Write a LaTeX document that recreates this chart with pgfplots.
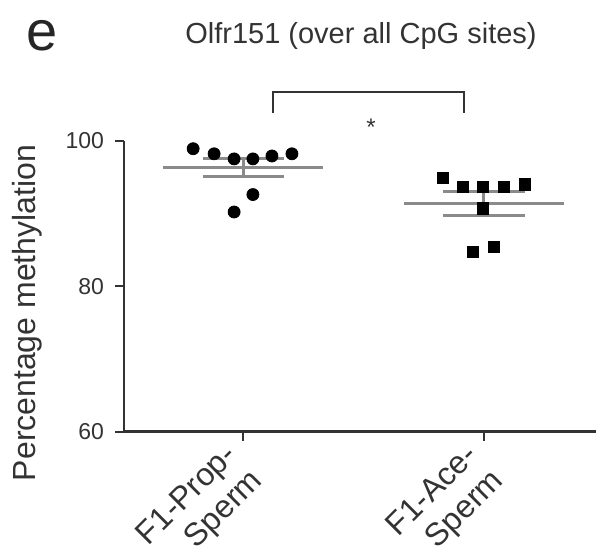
\documentclass[border=0pt]{standalone}
\usepackage{fontspec}
\setmainfont{Liberation Sans}
\usepackage{pgfplots}
\pgfplotsset{compat=1.18}
\definecolor{meangray}{HTML}{8A8A8A}
\definecolor{inkgray}{HTML}{333333}

\begin{document}
\begin{tikzpicture}[x=1pt,y=1pt]
\path[use as bounding box] (0,0) rectangle (298,276);
\begin{axis}[
  at={(62pt,60.15pt)}, anchor=south west,
  scale only axis, width=236pt, height=145.5pt,
  xmin=0.506, xmax=2.465, ymin=60, ymax=100,
  axis x line*=bottom, axis y line*=left,
  axis line style={-, line width=1.2pt, draw=inkgray},
  xtick={1,2}, xticklabels={{F1-Prop-\\Sperm},{F1-Ace-\\Sperm}},
  ytick={60,80,100},
  tick align=outside, major tick length=4.5pt,
  tick style={line width=1pt, inkgray},
  x tick label style={rotate=45, anchor=north east, align=right,
    xshift=-4pt, yshift=10.5pt,
    font=\fontsize{16}{18}\selectfont, text=inkgray},
  y tick label style={font=\fontsize{11.5}{12}\selectfont, text=inkgray, xshift=-2pt},
  clip=false,
  /pgf/number format/assume math mode=true,
]
% mean and SEM, group 1
\addplot[meangray, line width=1.5pt] coordinates {(0.668,96.3) (1.332,96.3)};
\addplot[meangray, line width=1.5pt] coordinates {(0.834,97.5) (1.170,97.5)};
\addplot[meangray, line width=1.5pt] coordinates {(0.834,95.1) (1.170,95.1)};
\addplot[meangray, line width=1.5pt] coordinates {(1,95.1) (1,97.5)};
% mean and SEM, group 2
\addplot[meangray, line width=1.5pt] coordinates {(1.668,91.4) (2.332,91.4)};
\addplot[meangray, line width=1.5pt] coordinates {(1.830,93.0) (2.170,93.0)};
\addplot[meangray, line width=1.5pt] coordinates {(1.830,89.7) (2.170,89.7)};
\addplot[meangray, line width=1.5pt] coordinates {(2,89.7) (2,93.0)};
% F1-Prop-Sperm
\addplot[only marks, mark=*, mark size=3pt, black] coordinates {
  (0.793,98.9) (0.880,98.2) (0.963,97.5) (1.041,97.5) (1.120,97.9) (1.203,98.2)
  (1.041,92.6) (0.963,90.2)};
% F1-Ace-Sperm
\addplot[only marks, mark=square*, mark size=2.8pt, black] coordinates {
  (1.830,94.9) (1.913,93.7) (1.996,93.6) (2.083,93.6) (2.170,94.0)
  (1.996,90.7) (1.954,84.7) (2.041,85.4)};
% significance bracket
\draw[line width=1pt, inkgray] (axis cs:1.124,103.8) -- (axis cs:1.124,106.7)
  -- (axis cs:1.917,106.7) -- (axis cs:1.917,103.8);
\node[font=\fontsize{12}{12}\selectfont, text=inkgray] at (axis cs:1.531,101.8) {*};
\end{axis}
\node[font=\fontsize{14.5}{16}\selectfont, text=inkgray] at (180.5,258) {Olfr151 (over all CpG sites)};
\node[font=\fontsize{28}{29}\selectfont, text=black!85] at (21,258) {e};
\node[rotate=90, font=\fontsize{16}{18}\selectfont, text=inkgray] at (13.5,119.5) {Percentage methylation};
\end{tikzpicture}
\end{document}
